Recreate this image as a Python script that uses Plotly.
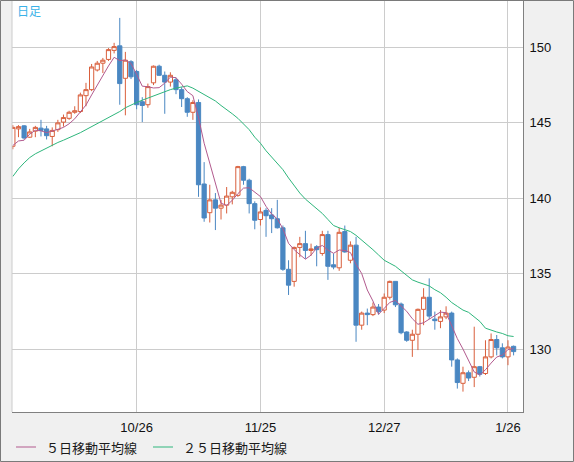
import pandas as pd
import plotly.graph_objects as go

# daily candles, USD/JPY style chart (weekdays 2022-09-26 .. 2023-01-27)
dates = pd.bdate_range("2022-09-26", "2023-01-27").strftime("%Y-%m-%d").tolist()

opens = [143.45, 144.6, 144.8, 144.05, 144.45, 144.65, 144.6, 144.1, 144.55, 145.05,
         145.3, 145.7, 145.75, 146.8, 147.2, 148.5, 148.95, 149.2, 149.8, 150.1,
         147.95, 149.05, 148.4, 146.4, 146.2, 147.65, 148.75, 148.15, 147.7, 147.85,
         147.2, 146.6, 145.7, 146.35, 140.95, 139.05, 139.9, 139.35, 139.55, 140.1,
         140.2, 142.1, 141.2, 139.65, 138.6, 139.2, 138.9, 138.65, 138.05, 135.3,
         134.5, 136.75, 137.0, 136.55, 136.8, 136.35, 137.6, 135.6, 135.4, 137.8,
         135.9, 136.9, 131.6, 132.4, 132.3, 132.8, 132.6, 133.45, 134.5, 133.0,
         131.15, 130.6, 131.0, 132.65, 133.45, 132.0, 131.85, 132.15, 132.4, 129.3,
         127.75, 128.45, 128.15, 128.85, 128.4, 129.5, 130.65, 130.1, 129.5, 130.2]
highs = [144.85, 144.85, 144.85, 144.6, 144.8, 145.2, 144.8, 144.7, 145.2, 145.55,
         145.8, 146.1, 147.0, 147.65, 148.9, 149.1, 149.3, 149.95, 150.3, 151.95,
         149.7, 149.15, 148.5, 146.7, 147.6, 148.8, 148.85, 148.4, 148.35, 148.0,
         147.35, 146.7, 146.5, 146.55, 142.4, 140.9, 140.35, 139.9, 140.75, 140.5,
         142.15, 142.15, 141.3, 139.8, 139.4, 139.35, 139.35, 139.9, 138.2, 135.9,
         136.8, 137.45, 137.85, 137.0, 136.9, 137.85, 137.85, 136.35, 138.05, 138.2,
         137.15, 137.45, 132.5, 132.7, 133.1, 133.0, 133.7, 134.55, 134.5, 133.1,
         131.2, 131.3, 132.7, 134.05, 134.7, 132.5, 132.6, 132.85, 132.5, 129.4,
         128.85, 128.6, 131.5, 128.9, 130.6, 131.05, 130.95, 130.4, 130.6, 130.25]
lows = [143.25, 144.05, 143.9, 144.0, 144.05, 144.1, 143.9, 143.45, 144.4, 144.75,
        145.2, 145.6, 145.65, 146.1, 147.1, 148.4, 148.3, 149.1, 149.6, 146.2,
        145.5, 147.9, 145.9, 145.05, 146.0, 147.5, 148.1, 145.6, 147.4, 146.9,
        146.05, 145.4, 145.2, 140.1, 138.45, 138.4, 137.9, 138.6, 139.0, 139.6,
        140.1, 140.9, 139.0, 137.95, 138.2, 137.45, 137.7, 138.0, 135.2, 133.6,
        134.15, 136.1, 136.0, 136.2, 135.5, 136.2, 134.6, 135.3, 135.2, 136.4,
        135.7, 130.5, 131.3, 131.6, 132.2, 132.3, 132.4, 133.3, 132.8, 131.0,
        130.5, 129.5, 129.95, 131.6, 132.0, 131.3, 131.4, 132.0, 128.85, 127.4,
        127.2, 127.9, 127.5, 128.2, 128.3, 129.4, 129.6, 129.4, 128.95, 129.6]
closes = [144.7, 144.75, 144.0, 144.4, 144.7, 144.5, 144.15, 144.5, 145.0, 145.35,
          145.7, 145.8, 146.85, 147.2, 148.7, 148.95, 149.15, 149.85, 150.05, 147.6,
          149.15, 148.05, 146.2, 146.15, 147.4, 148.75, 148.15, 147.7, 148.15, 147.2,
          146.6, 145.7, 146.35, 140.9, 138.7, 139.9, 139.35, 139.55, 140.15, 140.4,
          142.1, 141.2, 139.65, 138.55, 139.1, 138.85, 138.65, 138.05, 135.3, 134.25,
          136.75, 137.0, 136.55, 136.65, 136.6, 137.6, 135.5, 135.45, 137.75, 136.45,
          136.9, 131.6, 132.4, 132.3, 132.8, 132.5, 133.45, 134.5, 132.95, 131.1,
          130.6, 131.0, 132.65, 133.45, 132.2, 131.9, 132.15, 132.4, 129.3, 127.8,
          128.45, 128.1, 128.85, 128.35, 129.5, 130.65, 130.1, 129.5, 130.15, 129.85]

# moving averages
ma5 = [143.5, 143.8, 143.85, 144.25, 144.51, 144.47, 144.35, 144.45, 144.57, 144.7,
       144.94, 145.27, 145.74, 146.18, 146.85, 147.5, 148.17, 148.77, 149.34, 149.12,
       149.16, 148.94, 148.21, 147.43, 147.39, 147.31, 147.33, 147.63, 148.03, 147.99,
       147.56, 147.07, 146.8, 145.35, 143.65, 142.31, 141.04, 139.68, 139.53, 139.87,
       140.31, 140.68, 140.7, 140.38, 140.12, 139.47, 138.96, 138.64, 137.99, 137.02,
       136.6, 136.27, 135.97, 136.24, 136.71, 136.88, 136.58, 136.36, 136.58, 136.55,
       136.41, 135.63, 135.02, 133.93, 133.2, 132.32, 132.69, 133.11, 133.24, 132.9,
       132.52, 132.03, 131.66, 131.76, 131.98, 132.24, 132.47, 132.42, 131.59, 130.71,
       130.02, 129.21, 128.5, 128.31, 128.65, 129.09, 129.49, 129.62, 129.98, 130.05]
ma25 = [141.45, 141.95, 142.35, 142.7, 142.95, 143.15, 143.35, 143.5, 143.7, 143.85,
        144.0, 144.15, 144.35, 144.55, 144.75, 144.95, 145.1, 145.3, 145.5, 145.75,
        146.0, 146.2, 146.35, 146.5, 146.65, 146.8, 146.95, 147.05, 147.2, 147.3,
        147.4, 147.45, 147.3, 147.1, 146.85, 146.65, 146.45, 146.15, 145.9, 145.6,
        145.3, 144.95, 144.55, 144.05, 143.65, 143.15, 142.75, 142.3, 141.9, 141.35,
        140.85, 140.35, 139.95, 139.65, 139.35, 139.0, 138.6, 138.2, 138.05, 137.95,
        137.8, 137.55, 137.25, 136.9, 136.6, 136.25, 135.9, 135.7, 135.5, 135.2,
        134.9, 134.6, 134.45, 134.35, 134.2, 133.95, 133.75, 133.45, 133.1, 132.85,
        132.6, 132.45, 132.15, 131.85, 131.4, 131.25, 131.15, 131.05, 130.9, 130.85]

tick_dates = ["2022-10-26", "2022-11-25", "2022-12-27", "2023-01-26"]
tick_labels = ["10/26", "11/25", "12/27", "1/26"]
price_ticks = [130, 135, 140, 145, 150]
legend_names = ["５日移動平均線", "２５日移動平均線"]

UP = "#d95f3c"
DOWN = "#4a87c2"
MA5_COLOR = "#b25a8e"
MA25_COLOR = "#2eb67c"
GRID = "#cccccc"
FRAME = "#808080"
JP_FONT = "Noto Sans CJK JP"
NUM_FONT = "Liberation Sans"

W, H = 574, 462
M = dict(l=12, r=51, t=1, b=50)
PW = W - M["l"] - M["r"]
PH = H - M["t"] - M["b"]


def px_x(x):
    """ pixel x -> paper x """
    return (x - M["l"]) / PW


def px_y(y):
    """ pixel y -> paper y """
    return (H - M["b"] - y) / PH


#### Build the figure ##################################################
fig = go.Figure()
fig.add_trace(go.Candlestick(
    x=dates, open=opens, high=highs, low=lows, close=closes,
    increasing=dict(line=dict(color=UP, width=1), fillcolor="white"),
    decreasing=dict(line=dict(color=DOWN, width=1), fillcolor=DOWN),
    whiskerwidth=0,
    showlegend=False,
))
fig.add_trace(go.Scatter(x=dates, y=ma25, mode="lines", line=dict(color=MA25_COLOR, width=1),
                         name=legend_names[1], showlegend=False))
fig.add_trace(go.Scatter(x=dates, y=ma5, mode="lines", line=dict(color=MA5_COLOR, width=1),
                         name=legend_names[0], showlegend=False))

#### legend drawn by hand below the axis ##################################
shapes = []
annotations = []
legend_y = px_y(447)
for name, color, x0 in zip(legend_names, [MA5_COLOR, MA25_COLOR], [16, 153]):
    shapes.append(dict(type="line", xref="paper", yref="paper",
                       x0=px_x(x0), x1=px_x(x0 + 20), y0=legend_y, y1=legend_y,
                       line=dict(color=color, width=1)))
    annotations.append(dict(text=name, xref="paper", yref="paper", x=px_x(x0 + 28), y=legend_y,
                            xanchor="left", yanchor="middle", showarrow=False,
                            font=dict(family=JP_FONT, size=13, color="#1a1a1a")))

annotations.append(dict(text="日足", xref="paper", yref="paper", x=px_x(15), y=px_y(11),
                        xanchor="left", yanchor="middle", showarrow=False,
                        font=dict(family=JP_FONT, size=12, color="#3ab2e8")))

# left edge of the plot is a light line, outer frame of the whole picture is dark
shapes.append(dict(type="line", xref="paper", yref="paper", x0=0, x1=0, y0=0, y1=1,
                   line=dict(color=GRID, width=1)))
shapes.append(dict(type="rect", xref="paper", yref="paper",
                   x0=px_x(0.5), x1=px_x(W - 0.5), y0=px_y(H - 0.5), y1=px_y(0.5),
                   line=dict(color="#7a7a7a", width=1)))

#### Layout ##################################################
fig.update_layout(
    width=W, height=H, margin=M,
    paper_bgcolor="#f0f0f0", plot_bgcolor="white",
    showlegend=False,
    boxgap=0.25, boxgroupgap=0,
    shapes=shapes, annotations=annotations,
    xaxis=dict(
        type="category", range=[-0.15, 90.67],
        tickvals=tick_dates, ticktext=tick_labels,
        showgrid=True, gridcolor=GRID, gridwidth=1,
        showline=True, linecolor=FRAME, linewidth=1,
        ticks="", ticklabelstandoff=3,
        tickfont=dict(family=NUM_FONT, size=13, color="#111111"),
        rangeslider=dict(visible=False), zeroline=False,
    ),
    yaxis=dict(
        side="right", range=[125.85, 153.07],
        tickvals=price_ticks,
        showgrid=True, gridcolor=GRID, gridwidth=1,
        showline=True, linecolor=FRAME, linewidth=1,
        ticks="", ticklabelstandoff=3,
        tickfont=dict(family=NUM_FONT, size=13, color="#111111"),
        zeroline=False,
    ),
)

# page body has a default 8px margin; drop it so the chart fills the window
fig.write_html("out.html", config={"displayModeBar": False},
               post_script="document.body.style.margin='0px';")
